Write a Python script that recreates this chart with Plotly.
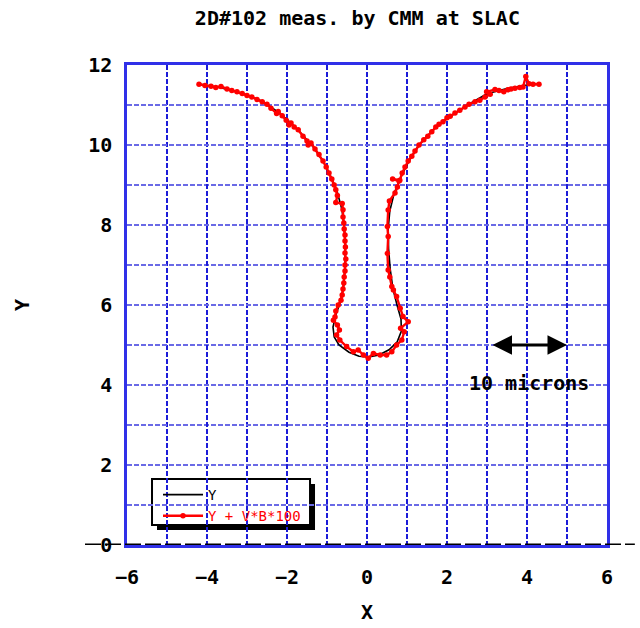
import plotly.graph_objects as go

# Design trajectory (smooth) in mm
y_x = [-4.17, -3.75, -3.4, -3.0, -2.6, -2.3, -2.0, -1.7, -1.35, -1.1, -0.9, -0.75,
       -0.63, -0.57, -0.54, -0.55, -0.58, -0.66, -0.78, -0.85, -0.82, -0.7, -0.45,
       -0.2, 0.05, 0.3, 0.55, 0.75, 0.86, 0.85, 0.75, 0.65, 0.58, 0.54, 0.53, 0.57,
       0.68, 0.85, 1.05, 1.3, 1.7, 2.1, 2.6, 3.0, 3.5, 4.0, 4.3]
y_y = [11.52, 11.45, 11.37, 11.25, 11.08, 10.88, 10.64, 10.35, 9.96, 9.6, 9.2, 8.85,
       8.4, 8.0, 7.5, 7.0, 6.5, 6.1, 5.75, 5.45, 5.2, 5.0, 4.82,
       4.72, 4.7, 4.75, 4.88, 5.07, 5.35, 5.65, 6.0, 6.4, 6.9, 7.4, 7.9, 8.35,
       8.8, 9.2, 9.6, 10.0, 10.43, 10.73, 11.05, 11.28, 11.41, 11.5, 11.52]

# Measured trajectory with field error term (Y + V*B*100)
m_x = [-4.2, -4.05, -3.9, -3.78, -3.65, -3.5, -3.38, -3.25, -3.12, -3.0, -2.88,
       -2.75, -2.62, -2.5, -2.4, -2.26, -2.22, -2.12, -2.02, -1.95, -1.9, -1.82,
       -1.72, -1.6, -1.5, -1.47, -1.4, -1.3, -1.2, -1.1, -1.02, -0.95, -0.88,
       -0.82, -0.78, -0.74, -0.78, -0.62, -0.6, -0.6, -0.58, -0.57, -0.55, -0.55,
       -0.54, -0.55, -0.53, -0.55, -0.55, -0.57, -0.58, -0.6, -0.62, -0.65,
       -0.72, -0.78, -0.8, -0.84, -0.74, -0.69, -0.76, -0.68, -0.51, -0.34,
       -0.22, -0.09, 0.03, 0.16, 0.33, 0.49, 0.62, 0.74, 0.87, 0.93, 0.84,
       1.03, 0.9, 0.83, 0.74, 0.66, 0.62, 0.57, 0.53, 0.51, 0.53, 0.51, 0.53,
       0.56, 0.7, 0.76, 0.8, 0.64, 0.82, 0.88, 0.95, 1.03, 1.12, 1.2, 1.3,
       1.42, 1.52, 1.62, 1.72, 1.8, 1.9, 2.0, 2.08, 2.2, 2.32, 2.45, 2.55,
       2.7, 2.82, 2.95, 3.08, 2.99, 3.2, 3.3, 3.42, 3.52, 3.6, 3.7, 3.82,
       3.9, 3.97, 4.05, 4.15, 4.3]
m_y = [11.52, 11.49, 11.47, 11.44, 11.46, 11.4, 11.36, 11.33, 11.29, 11.24, 11.2,
       11.14, 11.08, 11.02, 10.92, 10.79, 10.84, 10.73, 10.62, 10.5, 10.55, 10.45,
       10.38, 10.22, 10.1, 10.0, 10.05, 9.9, 9.76, 9.6, 9.45, 9.3, 9.15,
       9.0, 8.88, 8.74, 8.56, 8.54, 8.38, 8.2, 8.05, 7.9, 7.75, 7.6,
       7.45, 7.3, 7.15, 7.0, 6.85, 6.7, 6.55, 6.4, 6.25, 6.12,
       6.0, 5.85, 5.7, 5.62, 5.5, 5.375, 5.25, 5.125, 4.96, 4.83,
       4.875, 4.75, 4.67, 4.79, 4.75, 4.75, 4.83, 5.0, 5.125, 5.33, 5.42,
       5.58, 5.71, 5.92, 6.21, 6.375, 6.46, 6.7, 6.875, 7.29, 7.71, 7.96, 8.375,
       8.6, 8.8, 8.95, 9.1, 9.15, 9.12, 9.3, 9.45, 9.6, 9.72, 9.85, 10.0,
       10.13, 10.22, 10.33, 10.45, 10.52, 10.58, 10.68, 10.72, 10.8, 10.87, 10.95, 11.02,
       11.08, 11.12, 11.2, 11.27, 11.33, 11.39, 11.36, 11.33, 11.38, 11.4, 11.42, 11.44,
       11.45, 11.71, 11.53, 11.52, 11.52]

x_ticks = [-6, -4, -2, 0, 2, 4, 6]
y_ticks = [0, 2, 4, 6, 8, 10, 12]

FONT = "DejaVu Sans Mono"
XGRID = "#1c1cd8"
YGRID = "#6a6ae6"
FRAME = "#3030e8"


def bold(size, color="black"):
    return dict(family=FONT, size=size, color=color, weight="bold")


def axis_style(grid):
    return dict(
        showgrid=True, gridcolor=grid, griddash="5px,2px", gridwidth=2,
        showline=True, linecolor=FRAME, linewidth=2.5, mirror=True,
        zeroline=False, ticks="", showticklabels=True, automargin=False,
        tickfont=bold(20),
        minor=dict(dtick=1, showgrid=True, gridcolor=grid, griddash="5px,2px", gridwidth=2),
    )


fig = go.Figure()
fig.add_trace(go.Scatter(x=y_x, y=y_y, mode="lines", name="Y",
                         line=dict(color="black", width=1.6)))
fig.add_trace(go.Scatter(x=m_x, y=m_y, mode="lines+markers",
                         name="<span style='color:red'>Y + V*B*100</span>",
                         line=dict(color="red", width=2.4),
                         marker=dict(color="red", size=5.5)))

fig.update_xaxes(range=[-6, 6], tickvals=x_ticks,
                 ticktext=[str(v).replace("-", "\u2212") for v in x_ticks],
                 ticklabelstandoff=12,
                 title=dict(text="X", font=bold(20), standoff=18),
                 **axis_style(XGRID))
fig.update_yaxes(range=[0, 12], tickvals=y_ticks, ticktext=[str(v) for v in y_ticks],
                 ticklabelstandoff=8,
                 title=dict(text="Y", font=bold(20), standoff=54),
                 **axis_style(YGRID))

# legend frame with drop shadow
fig.add_shape(type="rect", xref="paper", yref="paper",
              x0=0.0625, x1=0.3917, y0=0.03125, y1=0.127,
              fillcolor="black", line=dict(width=0), layer="between")
fig.add_shape(type="rect", xref="paper", yref="paper",
              x0=0.0521, x1=0.3813, y0=0.0417, y1=0.1375,
              fillcolor="white", line=dict(color="black", width=2), layer="between")

# dashed baseline at Y = 0 running past the frame
fig.add_shape(type="line", xref="paper", yref="y", x0=-0.0875, x1=1.058, y0=0, y1=0,
              line=dict(color="black", width=3, dash="16px,4px"), layer="above")

# 10 micron scale bar
fig.add_annotation(x=5.0, y=5.0, ax=3.1, ay=5.0, xref="x", yref="y", axref="x", ayref="y",
                   text="", showarrow=True, arrowhead=2, startarrowhead=2, arrowside="end+start",
                   arrowwidth=3, arrowsize=1.3, startarrowsize=1.3, arrowcolor="black")
fig.add_annotation(x=4.05, y=4.05, xref="x", yref="y", text="10 microns", showarrow=False,
                   font=bold(20))

fig.update_layout(
    width=640, height=628,
    margin=dict(l=127, r=33, t=65, b=83),
    paper_bgcolor="white", plot_bgcolor="white",
    title=dict(text="2D#102 meas. by CMM at SLAC", x=0.48, xref="paper", y=0.971, yanchor="middle",
               font=bold(20)),
    showlegend=True,
    legend=dict(x=0.0646, y=0.1375, xanchor="left", yanchor="top",
                bgcolor="rgba(0,0,0,0)", borderwidth=0,
                font=dict(family=FONT, size=14, color="black"),
                tracegroupgap=0, itemwidth=40),
)

fig.write_html("out.html")
